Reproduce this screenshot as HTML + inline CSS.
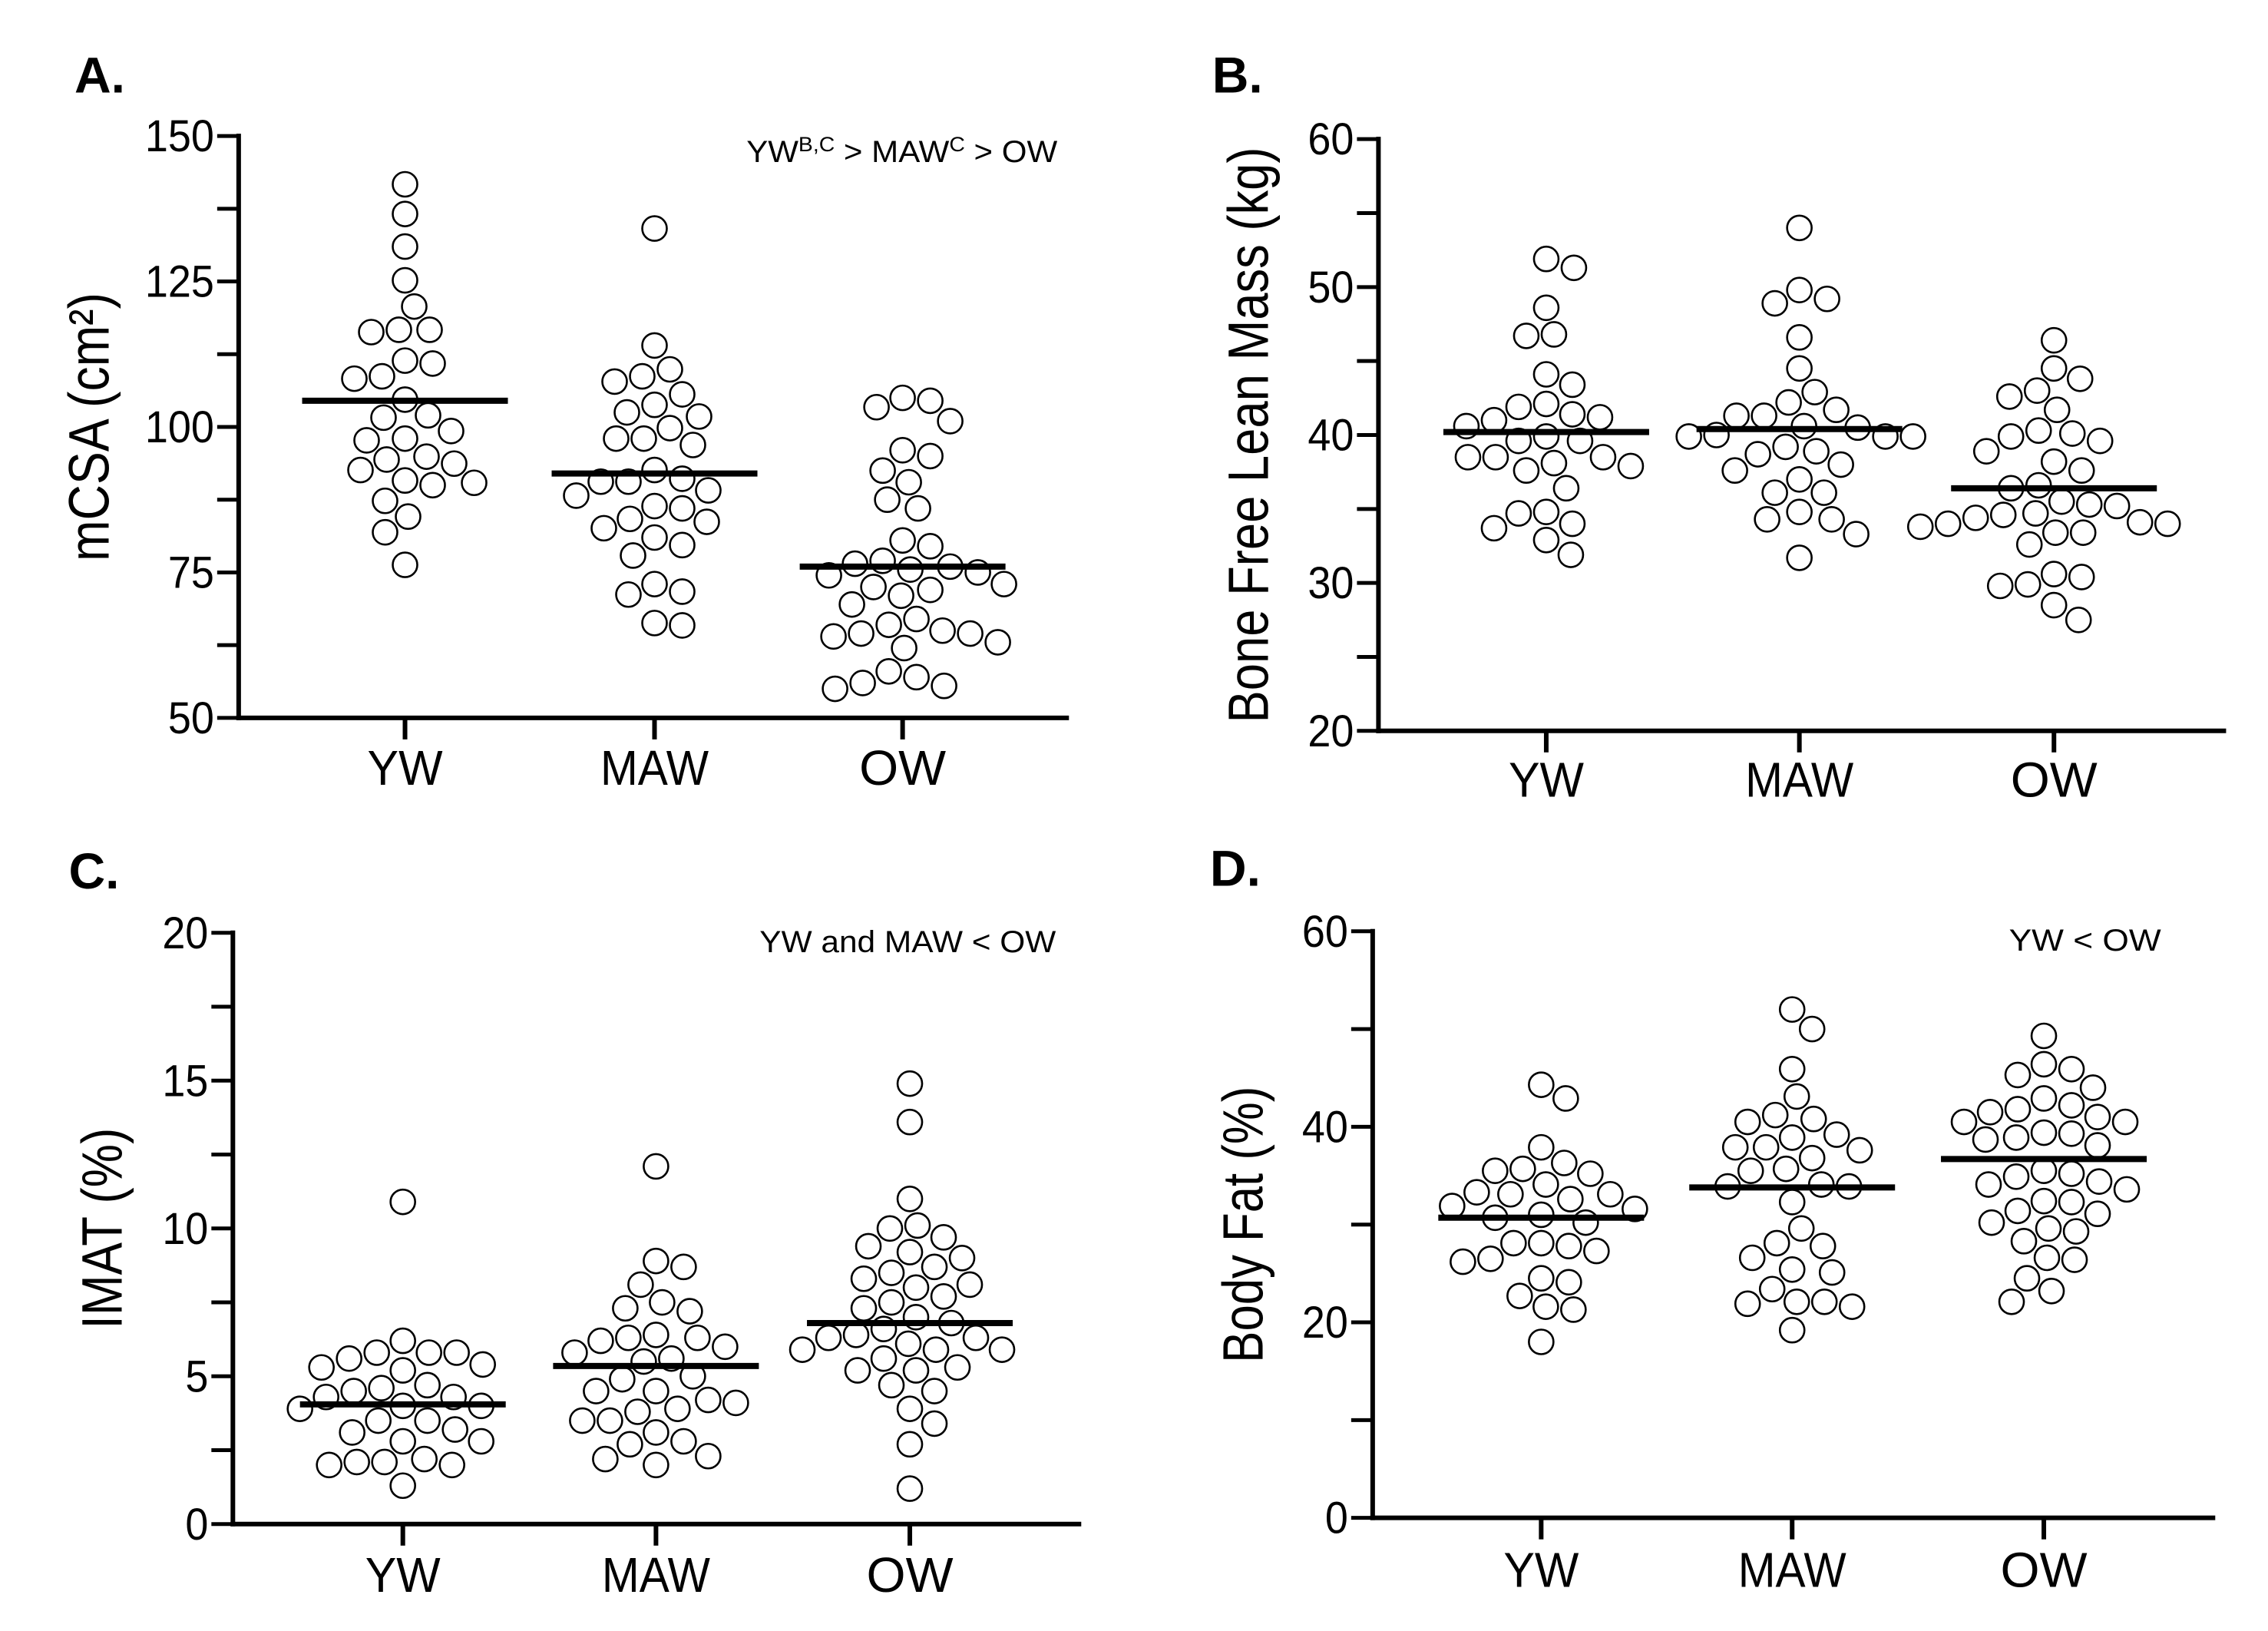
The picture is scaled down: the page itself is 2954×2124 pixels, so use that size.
<!DOCTYPE html>
<html><head><meta charset="utf-8">
<style>
html,body{margin:0;padding:0;background:#fff;}
body{width:2954px;height:2124px;position:relative;overflow:hidden;font-family:"Liberation Sans",Arial,sans-serif;}
svg{position:absolute;}
</style></head>
<body>
<svg id="pA" style="left:0;top:0" width="1477" height="1060"></svg>
<svg id="pB" style="left:1477px;top:0" width="1477" height="1060"></svg>
<svg id="pC" style="left:0;top:1060px" width="1477" height="1064"></svg>
<svg id="pD" style="left:1477px;top:1060px" width="1477" height="1064"></svg>
<script>
const categories = ["YW","MAW","OW"];
// Panel A: mCSA
const aYW = [141.7,136.6,131,125.2,120.7,116.7,116.3,116.7,111.4,110.9,108.3,108.7,104.7,102,101.6,99.3,97.7,98,94.4,94.9,93.7,92.6,90.4,90,90.8,87.3,84.6,81.9,76.3];
const aMAW = [134.1,114,109.9,108.7,107.8,105.6,103.8,102.5,101.8,99.8,98,98,96.9,92.6,90.6,91.1,89.1,90.6,88.2,86,86.4,84.2,83.7,82.6,81,79.7,77.9,73,71.7,71.2,65.9,66.3];
const aOW = [105,104.5,103.4,101,96,95,92.5,90.5,87.5,86,80.5,79.5,77,76.5,76,75.5,75,74.5,73,72.5,72,71,69.5,67,66,65,64.5,64.5,64,63,62,58,57,56,55.5,55];
const aMedians = [104.5,92,76];
const aTicks = [50,75,100,125,150];
// Panel B: Bone free lean mass
const bYW = [51.9,51.3,48.6,46.8,46.7,44.1,43.4,42.1,41.9,41.4,41.2,41,40.6,39.9,39.6,39.6,38.5,38.5,38.5,38.1,37.9,37.6,36.4,34.8,34.7,34,33.7,32.9,31.9];
const bMAW = [54,49.8,49.2,48.9,46.6,44.5,42.9,42.2,41.7,41.3,41.3,40.6,40.5,40,39.9,39.9,39.9,39.2,38.9,38.7,38,37.6,37,36.1,36.1,34.8,34.3,34.3,33.3,31.7];
const bOW = [46.4,44.5,43.8,43,42.6,41.7,40.3,40.1,39.9,39.6,38.9,38.2,37.6,36.6,36.4,35.5,35.3,35.2,34.7,34.6,34.4,34.1,34,34,33.8,33.4,33.4,32.6,30.6,30.4,29.9,29.8,28.5,27.5];
const bMedians = [40.2,40.4,36.4];
const bTicks = [20,30,40,50,60];
// Panel C: IMAT
const cYW = [10.9,6.2,5.8,5.8,5.8,5.6,5.4,5.3,5.2,4.7,4.6,4.5,4.3,4.3,4,4,3.9,3.5,3.5,3.2,3.1,2.8,2.8,2.2,2.1,2.1,2,2,1.3];
const cMAW = [12.1,8.9,8.7,8.1,7.5,7.3,7.2,6.4,6.3,6.3,6.2,6,5.8,5.6,5.5,5,4.9,4.5,4.5,4.2,4.1,3.9,3.8,3.5,3.5,3.1,2.8,2.7,2.3,2.2,2];
const cOW = [14.9,13.6,11,10.1,10,9.7,9.4,9.2,9,8.7,8.5,8.3,8.1,8,7.7,7.5,7.3,7,6.8,6.6,6.4,6.3,6.3,6.1,5.9,5.9,5.9,5.6,5.3,5.2,5.2,4.7,4.5,3.9,3.4,2.7,1.2];
const cMedians = [4.05,5.35,6.8];
const cTicks = [0,5,10,15,20];
// Panel D: Body fat
const dYW = [44.3,42.9,37.9,36.3,35.7,35.5,35.2,34.1,33.3,33.1,33.1,32.6,31.9,31.6,31,30.7,30.2,28.1,28.1,27.8,27.3,26.5,26.2,24.5,24.1,22.7,21.6,21.3,18];
const dMAW = [52,50,45.9,43.1,41.2,40.8,40.5,39.2,38.9,37.9,37.9,37.6,36.8,35.7,35.5,34.1,33.9,33.9,32.3,29.6,28.1,27.8,26.6,25.4,25.1,23.4,22.1,22.1,21.9,21.6,19.2];
const dOW = [49.3,46.4,45.9,45.3,44,42.9,42.2,41.8,41.5,41,40.5,40.5,39.4,39.3,38.9,38.7,38.1,35.5,35.2,34.9,34.4,34.1,33.6,32.4,32.3,31.4,31.1,30.2,29.6,29.3,28.3,26.6,26.4,24.5,23.2,22.1];
const dMedians = [30.7,33.8,36.7];
const dTicks = [0,20,40,60];

const NS="http://www.w3.org/2000/svg";
function mk(svg,tag,attrs,name,text){
  const e=document.createElementNS(NS,tag);
  for(const k in attrs) e.setAttribute(k,attrs[k]);
  
  
  if(text!==undefined) e.textContent=text;
  svg.appendChild(e);return e;
}
function swarm(vals,cx,yf,D){
  const placed=[];const out=[];
  const order=vals.map((v,i)=>i).sort((a,b)=>vals[b]-vals[a]);
  for(const i of order){
    const y=yf(vals[i]);let best=cx;
    for(let k=0;k<400;k++){
      const off=(k%2?1:-1)*Math.ceil(k/2)*2;
      const x=cx+off;
      if(placed.every(p=>(p[0]-x)**2+(p[1]-y)**2>=D*D)){best=x;break;}
    }
    placed.push([best,y]);out[i]=[best,y];
  }
  return out;
}
const KX=0.942;
const CATW={YW:98,MAW:141,OW:113};
function panel(id,c){
  const s=document.getElementById(id);
  const KY=c.ky;
  const X=z=>z*KX, Y=z=>z*KY;
  const ax=X(c.ax), y0=Y(c.y0px), y1=Y(c.y1px), xend=X(c.xend);
  const cats=c.cats.map(X);
  const yf=v=>y0+(v-c.min)/(c.max-c.min)*(y1-y0);
  mk(s,'text',{x:X(c.letter[0]),y:Y(c.letter[1]),'font-size':66,'font-weight':'bold'},'panel-letter',c.letterText);
  mk(s,'text',{x:0,y:0,'font-size':74,'text-anchor':'middle',transform:`translate(${X(c.ylabX)},${(y0+y1)/2}) rotate(-90)`,textLength:c.ylabLen,lengthAdjust:'spacingAndGlyphs'},'y-axis-title',c.ylab);
  mk(s,'line',{x1:ax,y1:y1-3,x2:ax,y2:y0+3,stroke:'#000','stroke-width':6},'y-axis-line');
  mk(s,'line',{x1:ax-3,y1:y0,x2:xend,y2:y0,stroke:'#000','stroke-width':6},'x-axis-line');
  for(let v=c.min;v<=c.max+1e-9;v+=c.minor){
    mk(s,'line',{x1:ax-28,y1:yf(v),x2:ax,y2:yf(v),stroke:'#000','stroke-width':5},'y-tick');
  }
  c.ticks.forEach(t=>{
    const str=String(t);
    mk(s,'text',{x:ax-32,y:yf(t)+20,'font-size':58,'text-anchor':'end',textLength:str.length*30,lengthAdjust:'spacingAndGlyphs'},'y-tick-label',str);
  });
  categories.forEach((cat,i)=>{
    mk(s,'line',{x1:cats[i],y1:y0,x2:cats[i],y2:y0+28,stroke:'#000','stroke-width':6},'x-tick');
    mk(s,'text',{x:cats[i],y:Y(c.catY),'font-size':64,'text-anchor':'middle',textLength:CATW[cat],lengthAdjust:'spacingAndGlyphs'},'x-tick-label-'+cat.toLowerCase(),cat);
  });
  c.series.forEach((vals,i)=>{
    const pts=swarm(vals,cats[i],yf,36);
    pts.forEach(p=>{
      mk(s,'circle',{cx:p[0],cy:p[1],r:16,fill:'#fff',stroke:'#000','stroke-width':2.6},'point-'+categories[i].toLowerCase());
    });
  });
  c.medians.forEach((m,i)=>{
    mk(s,'line',{x1:cats[i]-134,y1:yf(m),x2:cats[i]+134,y2:yf(m),stroke:'#000','stroke-width':8},'median-line-'+categories[i].toLowerCase());
  });
  if(c.annot){
    const t=mk(s,'text',{x:X(c.annot[0]),y:Y(c.annot[1]),'font-size':40,'text-anchor':'end',textLength:c.annot[3],lengthAdjust:'spacingAndGlyphs'},'significance-annotation');
    c.annot[2].forEach(part=>{
      const ts=document.createElementNS(NS,'tspan');
      ts.textContent=part[0];
      if(part[1]==='sup'){ts.setAttribute('font-size','27');ts.setAttribute('dy','-14');}
      if(part[1]==='down'){ts.setAttribute('dy','14');}
      t.appendChild(ts);
    });
  }
}
panel('pA',{ky:0.676,letterText:'A.',letter:[103,178],ylab:'mCSA (cm\u00B2)',ylabX:150,ylabLen:350,ax:330,y0px:1383,y1px:262,min:50,max:150,minor:12.5,ticks:aTicks,xend:1478,cats:[560,905,1248],catY:1512,series:[aYW,aMAW,aOW],medians:aMedians,
  annot:[1462,312,[['YW'],['B,C','sup'],[' > MAW','down'],['C','sup'],[' > OW','down']],405]});
panel('pB',{ky:0.676,letterText:'B.',letter:[108,178],ylab:'Bone Free Lean Mass (kg)',ylabX:185,ylabLen:750,ax:338,y0px:1408,y1px:268,min:20,max:60,minor:5,ticks:bTicks,xend:1510,cats:[570,920,1272],catY:1535,series:[bYW,bMAW,bOW],medians:bMedians});
panel('pC',{ky:0.679,letterText:'C.',letter:[95,143],ylab:'IMAT (%)',ylabX:168,ylabLen:262,ax:322,y0px:1362,y1px:228,min:0,max:20,minor:2.5,ticks:cTicks,xend:1495,cats:[557,907,1258],catY:1492,series:[cYW,cMAW,cOW],medians:cMedians,
  annot:[1460,265,[['YW and MAW < OW']],386]});
panel('pD',{ky:0.679,letterText:'D.',letter:[105,138],ylab:'Body Fat (%)',ylabX:178,ylabLen:360,ax:330,y0px:1350,y1px:225,min:0,max:60,minor:10,ticks:dTicks,xend:1495,cats:[563,910,1258],catY:1482,series:[dYW,dMAW,dOW],medians:dMedians,
  annot:[1420,262,[['YW <  OW']],198]});
</script>
</body></html>
